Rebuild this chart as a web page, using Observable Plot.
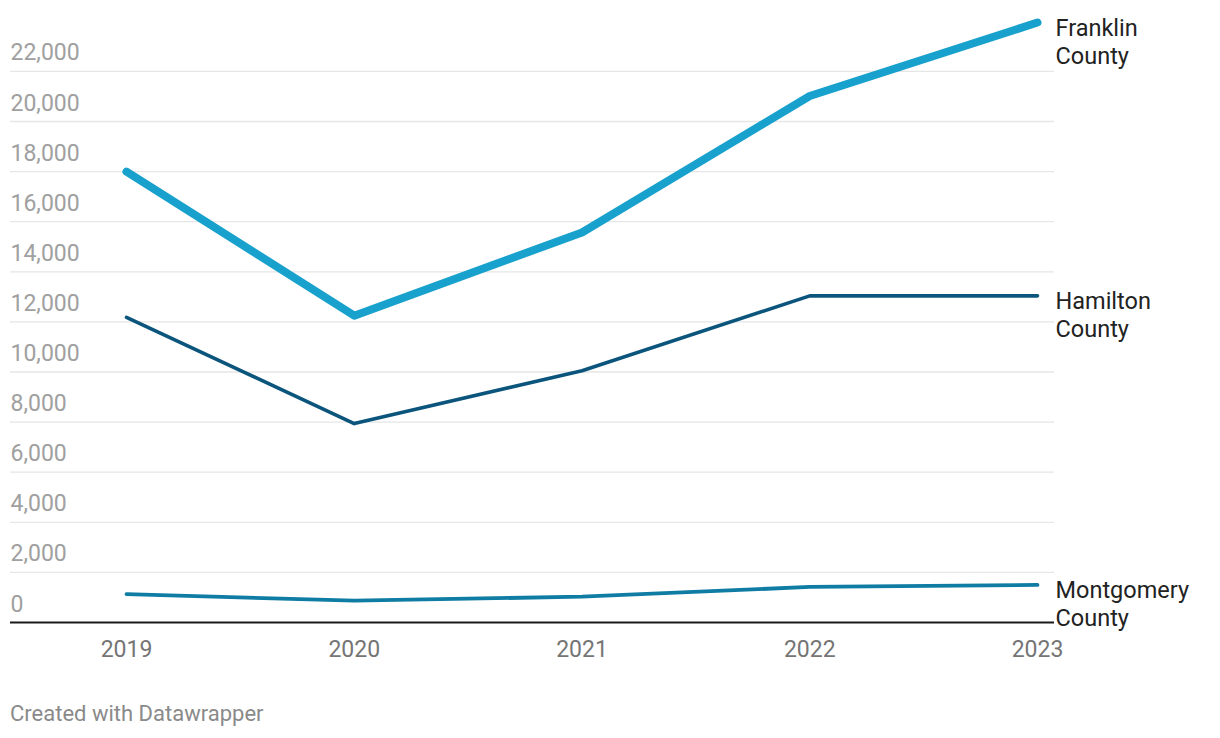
<!DOCTYPE html>
<html>
<head>
<meta charset="utf-8">
<script src="https://cdn.jsdelivr.net/npm/d3@7"></script>
<script src="https://cdn.jsdelivr.net/npm/@observablehq/plot@0.6"></script>
<style>
  html, body { margin: 0; padding: 0; background: #fff; }
  #chart svg { display: block; }
  .caption { font-family: Roboto, sans-serif; font-size: 22px; line-height: 24px; color: #8a8a8a; margin: 22px 0 0 10px; }
</style>
</head>
<body>
<div id="chart"></div>
<div class="caption">Created with Datawrapper</div>
<script>
const years = [2019, 2020, 2021, 2022, 2023];
const franklin = [18000, 12250, 15570, 21020, 23950];
const hamilton = [12180, 7940, 10050, 13040, 13040];
const montgomery = [1130, 870, 1030, 1420, 1500];
const seriesNames = ["Franklin County", "Hamilton County", "Montgomery County"];
const seriesLabels = ["Franklin\nCounty", "Hamilton\nCounty", "Montgomery\nCounty"];
const yTicks = [0, 2000, 4000, 6000, 8000, 10000, 12000, 14000, 16000, 18000, 20000, 22000];

const seriesValues = [franklin, hamilton, montgomery];
const rows = seriesNames.flatMap((s, i) => years.map((y, j) => ({series: s, year: y, value: seriesValues[i][j]})));
const lastRows = seriesNames.map((s, i) => ({series: s, label: seriesLabels[i], year: years[years.length - 1], value: seriesValues[i][years.length - 1]}));

const colors = {"Franklin County": "#18a1cd", "Hamilton County": "#0b557d", "Montgomery County": "#0f7ca3"};
const widths = {"Franklin County": 8, "Hamilton County": 3.6, "Montgomery County": 3.8};

const fmt = d3.format(",");

const chart = Plot.plot({
  width: 1220,
  height: 680,
  marginLeft: 10,
  marginRight: 166,
  marginTop: 20,
  marginBottom: 58,
  style: {fontFamily: "Roboto, sans-serif", background: "#fff"},
  x: {type: "linear", domain: [2019, 2023], range: [126, 1037], axis: null},
  y: {domain: [0, 24000], range: [622, 20.8], axis: null},
  marks: [
    Plot.ruleY(yTicks.filter(d => d > 0), {stroke: "#e6e6e6", strokeWidth: 1.3}),
    Plot.text(yTicks, {y: d => d, text: d => fmt(d), frameAnchor: "left", textAnchor: "start", lineAnchor: "bottom", dy: -11, fill: "#a0a0a0", fontSize: 23}),
    Plot.text(years, {x: d => d, text: d => String(d), frameAnchor: "bottom", lineAnchor: "top", dy: 18, fill: "#757575", fontSize: 23}),
    ...seriesNames.map(s => Plot.line(rows.filter(r => r.series === s), {
      x: "year", y: "value", stroke: colors[s], strokeWidth: widths[s], strokeLinecap: "round", strokeLinejoin: "round"
    })),
    Plot.ruleY([0], {stroke: "#1a1a1a", strokeWidth: 2}),
    Plot.text(lastRows, {x: "year", y: "value", text: "label", dx: 18, dy: -7, textAnchor: "start", lineAnchor: "top", lineHeight: 1.2, fill: "#222", fontSize: 23.5})
  ]
});
document.getElementById("chart").append(chart);
</script>
</body>
</html>
